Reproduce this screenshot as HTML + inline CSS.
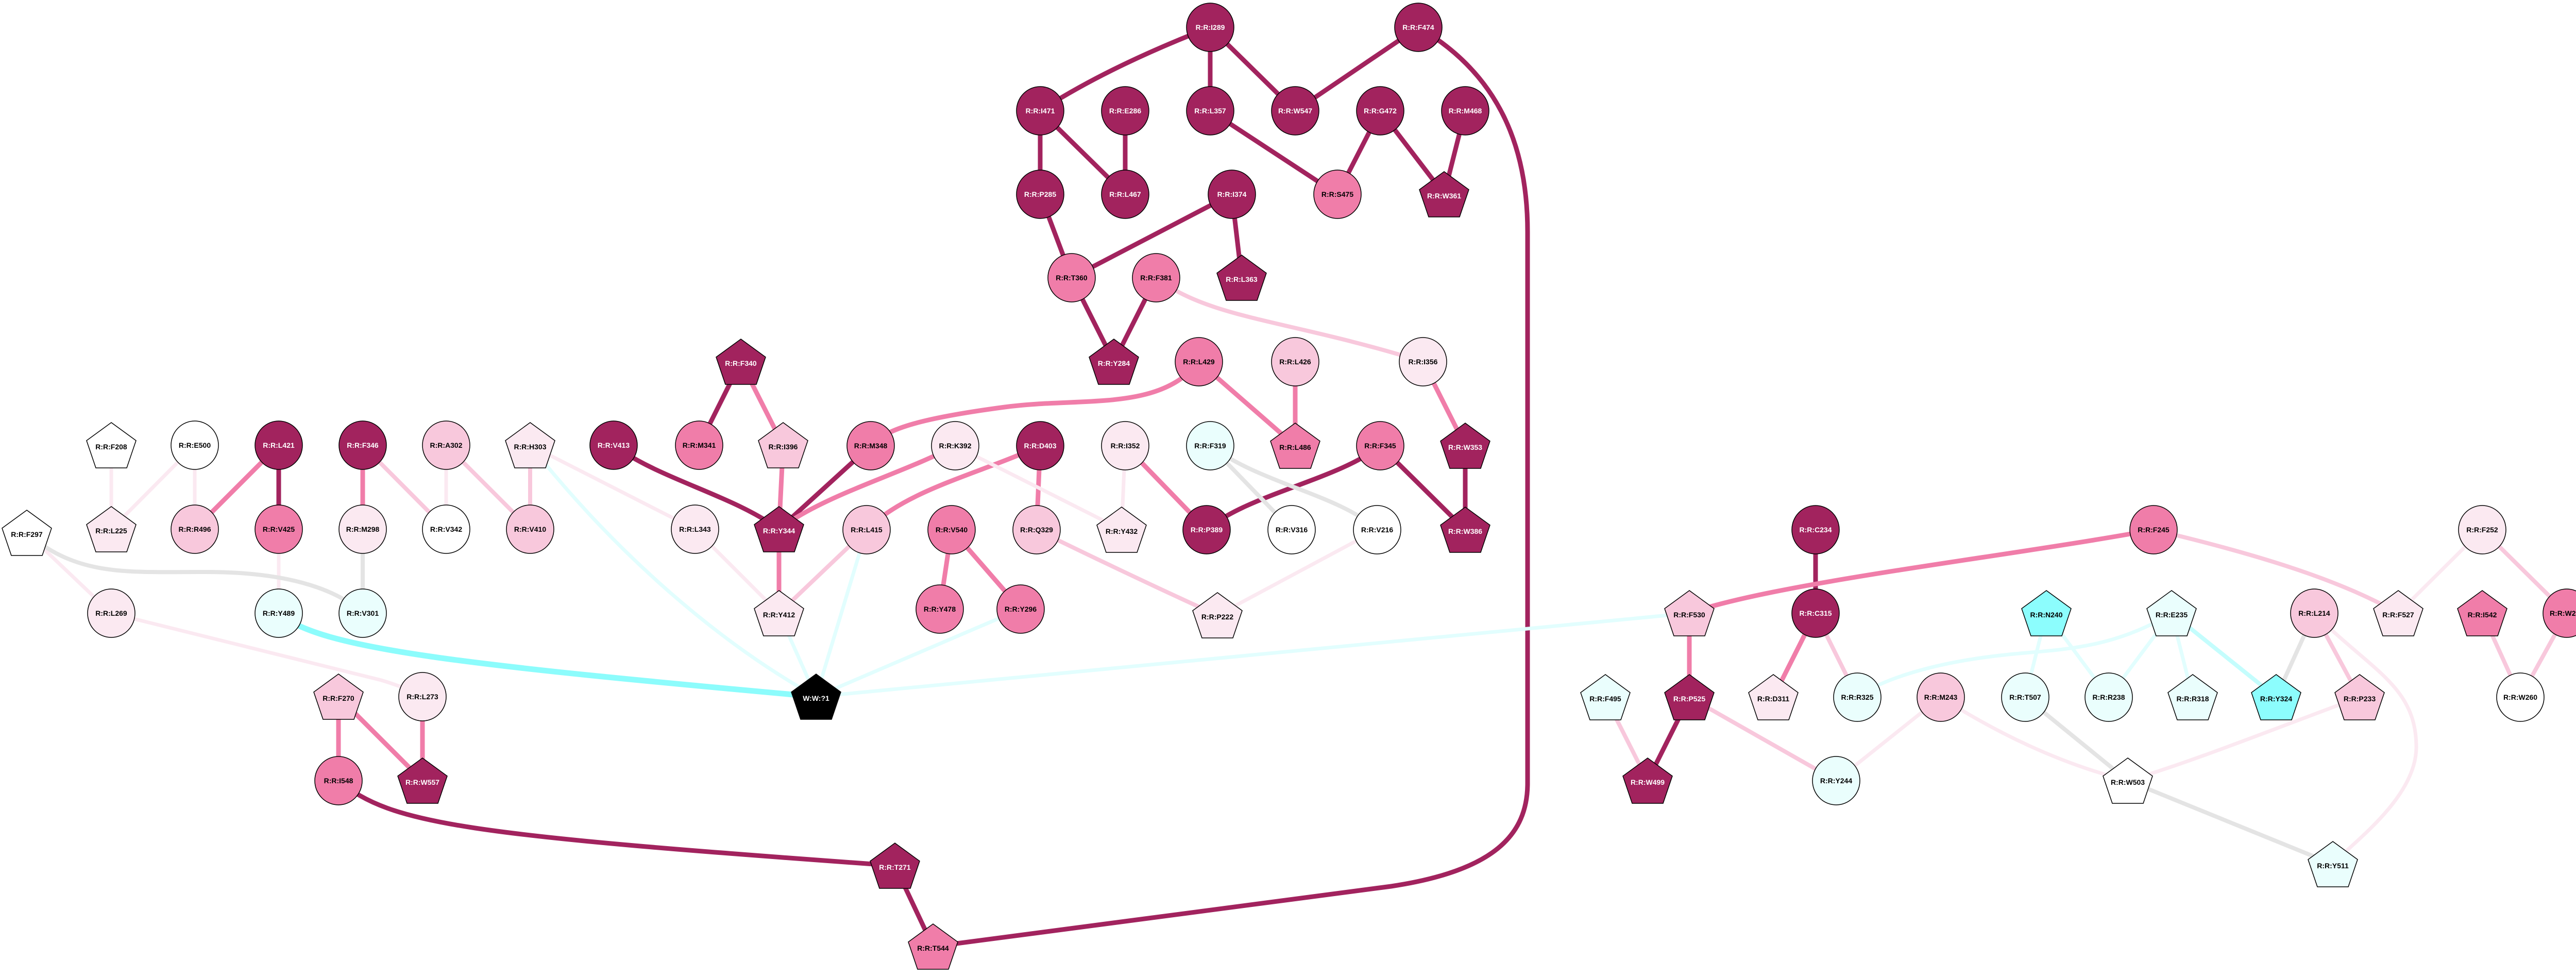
<!DOCTYPE html>
<html><head><meta charset="utf-8"><style>
html,body{margin:0;padding:0;background:#fff}
svg{display:block}
text{font-family:"Liberation Sans",sans-serif;font-weight:bold;font-size:14px;text-anchor:middle;dominant-baseline:central}
.w{fill:#fff}
.b{fill:#000}
</style></head><body>
<svg width="5035" height="1896" viewBox="0 0 5035 1896" xmlns="http://www.w3.org/2000/svg">
<defs>
<polygon id="pg" points="0,-44 48,-9 30,44 -30,44 -48,-9" stroke="#000" stroke-width="1.5"/>
</defs>
<g fill="none" stroke-linecap="round">
<!-- dark edges -->
<g stroke="#a2235e" stroke-width="9">
<path d="M2349,53 Q2150,130 2019,215"/>
<path d="M2349,53 L2349,215"/>
<path d="M2349,53 L2514,215"/>
<path d="M2753,53 L2514,215"/>
<path d="M2753,53 C2920,150 2965,300 2965,450 L2965,1520 C2965,1620 2900,1690 2700,1720 L1811,1837"/>
<path d="M2019,215 L2019,377"/>
<path d="M2019,215 L2184,377"/>
<path d="M2184,215 L2184,377"/>
<path d="M2349,215 L2596,377"/>
<path d="M2679,215 L2596,377"/>
<path d="M2679,215 L2803,377"/>
<path d="M2844,215 L2803,377"/>
<path d="M2019,377 L2080,539"/>
<path d="M2391,377 L2080,539"/>
<path d="M2391,377 L2410,539"/>
<path d="M2080,539 L2162,702"/>
<path d="M2244,539 L2162,702"/>
<path d="M1438,702 L1357,864"/>
<path d="M1191,864 C1280,930 1420,960 1512,1027"/>
<path d="M1690,865 L1512,1027"/>
<path d="M2679,865 C2600,930 2420,960 2342,1028"/>
<path d="M2679,865 L2844,1028"/>
<path d="M2844,865 L2844,1028"/>
<path d="M541,864 L541,1027"/>
<path d="M657,1515 C760,1600 900,1620 1737,1680"/>
<path d="M1737,1680 L1811,1837"/>
<path d="M3524,1028 L3524,1190"/>
<path d="M3279,1353 L3198,1515"/>
</g>
<!-- mid edges -->
<g stroke="#f07da9" stroke-width="9">
<path d="M2327,702 C2250,800 2100,770 1950,790 C1800,810 1720,830 1690,865"/>
<path d="M2327,702 L2514,865"/>
<path d="M2514,702 L2514,865"/>
<path d="M2762,702 L2844,865"/>
<path d="M1438,702 L1520,864"/>
<path d="M1520,864 L1512,1027"/>
<path d="M1854,865 C1750,920 1600,960 1512,1027"/>
<path d="M2019,865 C1900,920 1760,950 1682,1028"/>
<path d="M2019,865 L2012,1028"/>
<path d="M2184,865 L2342,1028"/>
<path d="M1512,1027 L1512,1190"/>
<path d="M1847,1028 L1824,1182"/>
<path d="M1847,1028 L1981,1182"/>
<path d="M541,864 L378,1027"/>
<path d="M704,864 L704,1027"/>
<path d="M657,1352 L657,1515"/>
<path d="M657,1352 L820,1515"/>
<path d="M820,1352 L820,1515"/>
<path d="M4180,1028 C3900,1080 3450,1130 3279,1190"/>
<path d="M3524,1190 L3442,1353"/>
<path d="M3279,1190 L3279,1353"/>
</g>
<!-- light pink edges -->
<g stroke="#f8c8dc" stroke-width="8">
<path d="M2244,539 C2350,620 2500,620 2762,702"/>
<path d="M1029,864 L1029,1027"/>
<path d="M866,864 L1029,1027"/>
<path d="M704,864 L866,1027"/>
<path d="M1682,1028 L1512,1190"/>
<path d="M2012,1028 Q2200,1120 2363,1194"/>
<path d="M4180,1028 C4400,1080 4550,1130 4655,1190"/>
<path d="M4818,1028 L4982,1190"/>
<path d="M4818,1190 L4892,1353"/>
<path d="M4982,1190 L4892,1353"/>
<path d="M3524,1190 L3605,1353"/>
<path d="M3116,1353 L3198,1515"/>
<path d="M3279,1353 L3564,1515"/>
<path d="M4492,1190 L4580,1353"/>
</g>
<!-- very light edges -->
<g stroke="#fbe9f1" stroke-width="7">
<path d="M1854,865 L2177,1028"/>
<path d="M2184,865 L2177,1028"/>
<path d="M2673,1028 L2363,1194"/>
<path d="M1029,864 L1349,1027"/>
<path d="M1349,1027 L1512,1190"/>
<path d="M216,864 L216,1027"/>
<path d="M378,864 L216,1027"/>
<path d="M378,864 L378,1027"/>
<path d="M866,864 L866,1027"/>
<path d="M541,1027 L541,1190"/>
<path d="M52,1034 L216,1190"/>
<path d="M216,1190 L740,1320 Q790,1335 820,1352"/>
<path d="M4818,1028 L4655,1190"/>
<path d="M3767,1353 L3564,1515"/>
<path d="M3767,1353 Q3950,1470 4130,1515"/>
<path d="M4580,1353 C4400,1420 4250,1480 4130,1515"/>
<path d="M4492,1190 C4600,1300 4690,1330 4690,1450 C4690,1550 4560,1640 4528,1677"/>
</g>
<!-- grey edges -->
<g stroke="#e4e4e4" stroke-width="8">
<path d="M2349,865 L2507,1028"/>
<path d="M2349,865 C2450,940 2600,960 2673,1028"/>
<path d="M704,1027 L704,1190"/>
<path d="M52,1034 C150,1120 250,1110 400,1110 C550,1110 650,1140 704,1190"/>
<path d="M3931,1353 L4130,1515"/>
<path d="M4130,1515 L4528,1677"/>
<path d="M4492,1190 L4418,1353"/>
</g>
<!-- light cyan edges -->
<g stroke="#e2fefe" stroke-width="7">
<path d="M1029,864 C1200,1080 1400,1250 1584,1352"/>
<path d="M1682,1028 L1584,1352"/>
<path d="M1512,1190 L1584,1352"/>
<path d="M1981,1182 L1584,1352"/>
<path d="M1584,1352 L3279,1190"/>
<path d="M3972,1190 L3931,1353"/>
<path d="M3972,1190 L4093,1353"/>
<path d="M4215,1190 L4093,1353"/>
<path d="M4215,1190 L4256,1353"/>
<path d="M4215,1190 C4100,1260 4000,1260 3900,1270 C3750,1285 3650,1320 3605,1353"/>
</g>
<path d="M4215,1190 L4418,1353" stroke="#c4fdfd" stroke-width="8"/>
<path d="M541,1190 C620,1260 900,1290 1584,1352" stroke="#8cfcfc" stroke-width="11"/>
</g>

<!-- nodes -->
<g stroke="#000" stroke-width="1.5">
<!-- circles: dark -->
<g fill="#a2235e">
<ellipse cx="2349" cy="53" rx="46" ry="47"/>
<ellipse cx="2753" cy="53" rx="46" ry="47"/>
<ellipse cx="2019" cy="215" rx="46" ry="47"/>
<ellipse cx="2184" cy="215" rx="46" ry="47"/>
<ellipse cx="2349" cy="215" rx="46" ry="47"/>
<ellipse cx="2514" cy="215" rx="46" ry="47"/>
<ellipse cx="2679" cy="215" rx="46" ry="47"/>
<ellipse cx="2844" cy="215" rx="46" ry="47"/>
<ellipse cx="2019" cy="377" rx="46" ry="47"/>
<ellipse cx="2184" cy="377" rx="46" ry="47"/>
<ellipse cx="2391" cy="377" rx="46" ry="47"/>
<ellipse cx="541" cy="864" rx="46" ry="47"/>
<ellipse cx="704" cy="864" rx="46" ry="47"/>
<ellipse cx="1191" cy="864" rx="46" ry="47"/>
<ellipse cx="2019" cy="865" rx="46" ry="47"/>
<ellipse cx="2342" cy="1028" rx="46" ry="47"/>
<ellipse cx="3524" cy="1028" rx="46" ry="47"/>
<ellipse cx="3524" cy="1190" rx="46" ry="47"/>
</g>
<g fill="#f07da9">
<ellipse cx="2596" cy="377" rx="46" ry="47"/>
<ellipse cx="2080" cy="539" rx="46" ry="47"/>
<ellipse cx="2244" cy="539" rx="46" ry="47"/>
<ellipse cx="2327" cy="702" rx="46" ry="47"/>
<ellipse cx="1357" cy="864" rx="46" ry="47"/>
<ellipse cx="1690" cy="865" rx="46" ry="47"/>
<ellipse cx="2679" cy="865" rx="46" ry="47"/>
<ellipse cx="541" cy="1027" rx="46" ry="47"/>
<ellipse cx="1847" cy="1028" rx="46" ry="47"/>
<ellipse cx="1824" cy="1182" rx="46" ry="47"/>
<ellipse cx="1981" cy="1182" rx="46" ry="47"/>
<ellipse cx="657" cy="1515" rx="46" ry="47"/>
<ellipse cx="4180" cy="1028" rx="46" ry="47"/>
<ellipse cx="4982" cy="1190" rx="46" ry="47"/>
</g>
<g fill="#f8c8dc">
<ellipse cx="2514" cy="702" rx="46" ry="47"/>
<ellipse cx="866" cy="864" rx="46" ry="47"/>
<ellipse cx="378" cy="1027" rx="46" ry="47"/>
<ellipse cx="1029" cy="1027" rx="46" ry="47"/>
<ellipse cx="1682" cy="1028" rx="46" ry="47"/>
<ellipse cx="2012" cy="1028" rx="46" ry="47"/>
<ellipse cx="4492" cy="1190" rx="46" ry="47"/>
<ellipse cx="3767" cy="1353" rx="46" ry="47"/>
</g>
<g fill="#fbe9f1">
<ellipse cx="2762" cy="702" rx="46" ry="47"/>
<ellipse cx="1854" cy="865" rx="46" ry="47"/>
<ellipse cx="2184" cy="865" rx="46" ry="47"/>
<ellipse cx="704" cy="1027" rx="46" ry="47"/>
<ellipse cx="1349" cy="1027" rx="46" ry="47"/>
<ellipse cx="216" cy="1190" rx="46" ry="47"/>
<ellipse cx="820" cy="1352" rx="46" ry="47"/>
<ellipse cx="4818" cy="1028" rx="46" ry="47"/>
</g>
<g fill="#ffffff">
<ellipse cx="378" cy="864" rx="46" ry="47"/>
<ellipse cx="866" cy="1027" rx="46" ry="47"/>
<ellipse cx="2507" cy="1028" rx="46" ry="47"/>
<ellipse cx="2673" cy="1028" rx="46" ry="47"/>
<ellipse cx="4892" cy="1353" rx="46" ry="47"/>
</g>
<g fill="#eafefd">
<ellipse cx="2349" cy="865" rx="46" ry="47"/>
<ellipse cx="541" cy="1190" rx="46" ry="47"/>
<ellipse cx="704" cy="1190" rx="46" ry="47"/>
<ellipse cx="3605" cy="1353" rx="46" ry="47"/>
<ellipse cx="3931" cy="1353" rx="46" ry="47"/>
<ellipse cx="4093" cy="1353" rx="46" ry="47"/>
<ellipse cx="3564" cy="1515" rx="46" ry="47"/>
</g>
<!-- pentagons -->
<g fill="#a2235e">
<use href="#pg" x="2803" y="377"/>
<use href="#pg" x="2410" y="539"/>
<use href="#pg" x="2162" y="702"/>
<use href="#pg" x="1438" y="702"/>
<use href="#pg" x="1512" y="1027"/>
<use href="#pg" x="2844" y="865"/>
<use href="#pg" x="2844" y="1028"/>
<use href="#pg" x="820" y="1515"/>
<use href="#pg" x="1737" y="1680"/>
<use href="#pg" x="3279" y="1353"/>
<use href="#pg" x="3198" y="1515"/>
</g>
<g fill="#f07da9">
<use href="#pg" x="2514" y="865"/>
<use href="#pg" x="1811" y="1837"/>
<use href="#pg" x="4818" y="1190"/>
</g>
<g fill="#f8c8dc">
<use href="#pg" x="1520" y="864"/>
<use href="#pg" x="657" y="1352"/>
<use href="#pg" x="3279" y="1190"/>
<use href="#pg" x="4580" y="1353"/>
</g>
<g fill="#fbe9f1">
<use href="#pg" x="1029" y="864"/>
<use href="#pg" x="216" y="1027"/>
<use href="#pg" x="1512" y="1190"/>
<use href="#pg" x="2177" y="1028"/>
<use href="#pg" x="2363" y="1194"/>
<use href="#pg" x="4655" y="1190"/>
<use href="#pg" x="3442" y="1353"/>
</g>
<g fill="#ffffff">
<use href="#pg" x="216" y="864"/>
<use href="#pg" x="52" y="1034"/>
<use href="#pg" x="4130" y="1515"/>
</g>
<g fill="#eafefd">
<use href="#pg" x="4215" y="1190"/>
<use href="#pg" x="3116" y="1353"/>
<use href="#pg" x="4256" y="1353"/>
<use href="#pg" x="4528" y="1677"/>
</g>
<g fill="#8cfdfd">
<use href="#pg" x="3972" y="1190"/>
<use href="#pg" x="4418" y="1353"/>
</g>
<use href="#pg" x="1584" y="1352" fill="#000"/>
</g>

<!-- labels -->
<g class="w">
<text x="2349" y="53">R:R:I289</text>
<text x="2753" y="53">R:R:F474</text>
<text x="2019" y="215">R:R:I471</text>
<text x="2184" y="215">R:R:E286</text>
<text x="2349" y="215">R:R:L357</text>
<text x="2514" y="215">R:R:W547</text>
<text x="2679" y="215">R:R:G472</text>
<text x="2844" y="215">R:R:M468</text>
<text x="2019" y="377">R:R:P285</text>
<text x="2184" y="377">R:R:L467</text>
<text x="2391" y="377">R:R:I374</text>
<text x="2803" y="380">R:R:W361</text>
<text x="2410" y="542">R:R:L363</text>
<text x="2162" y="705">R:R:Y284</text>
<text x="1438" y="705">R:R:F340</text>
<text x="541" y="864">R:R:L421</text>
<text x="704" y="864">R:R:F346</text>
<text x="1191" y="864">R:R:V413</text>
<text x="2019" y="865">R:R:D403</text>
<text x="2844" y="868">R:R:W353</text>
<text x="1512" y="1030">R:R:Y344</text>
<text x="2342" y="1028">R:R:P389</text>
<text x="2844" y="1031">R:R:W386</text>
<text x="820" y="1518">R:R:W557</text>
<text x="1737" y="1683">R:R:T271</text>
<text x="3524" y="1028">R:R:C234</text>
<text x="3524" y="1190">R:R:C315</text>
<text x="3279" y="1356">R:R:P525</text>
<text x="3198" y="1518">R:R:W499</text>
<text x="1584" y="1355">W:W:?1</text>
</g>
<g class="b">
<text x="2596" y="377">R:R:S475</text>
<text x="2080" y="539">R:R:T360</text>
<text x="2244" y="539">R:R:F381</text>
<text x="2327" y="702">R:R:L429</text>
<text x="2514" y="702">R:R:L426</text>
<text x="2762" y="702">R:R:I356</text>
<text x="216" y="867">R:R:F208</text>
<text x="378" y="864">R:R:E500</text>
<text x="866" y="864">R:R:A302</text>
<text x="1029" y="867">R:R:H303</text>
<text x="1357" y="864">R:R:M341</text>
<text x="1520" y="867">R:R:I396</text>
<text x="1690" y="865">R:R:M348</text>
<text x="1854" y="865">R:R:K392</text>
<text x="2184" y="865">R:R:I352</text>
<text x="2349" y="865">R:R:F319</text>
<text x="2514" y="868">R:R:L486</text>
<text x="2679" y="865">R:R:F345</text>
<text x="52" y="1037">R:R:F297</text>
<text x="216" y="1030">R:R:L225</text>
<text x="378" y="1027">R:R:R496</text>
<text x="541" y="1027">R:R:V425</text>
<text x="704" y="1027">R:R:M298</text>
<text x="866" y="1027">R:R:V342</text>
<text x="1029" y="1027">R:R:V410</text>
<text x="1349" y="1027">R:R:L343</text>
<text x="1682" y="1028">R:R:L415</text>
<text x="1847" y="1028">R:R:V540</text>
<text x="2012" y="1028">R:R:Q329</text>
<text x="2177" y="1031">R:R:Y432</text>
<text x="2507" y="1028">R:R:V316</text>
<text x="2673" y="1028">R:R:V216</text>
<text x="216" y="1190">R:R:L269</text>
<text x="541" y="1190">R:R:Y489</text>
<text x="704" y="1190">R:R:V301</text>
<text x="1512" y="1193">R:R:Y412</text>
<text x="1824" y="1182">R:R:Y478</text>
<text x="1981" y="1182">R:R:Y296</text>
<text x="2363" y="1197">R:R:P222</text>
<text x="657" y="1355">R:R:F270</text>
<text x="820" y="1352">R:R:L273</text>
<text x="657" y="1515">R:R:I548</text>
<text x="1811" y="1840">R:R:T544</text>
<text x="4180" y="1028">R:R:F245</text>
<text x="4818" y="1028">R:R:F252</text>
<text x="3279" y="1193">R:R:F530</text>
<text x="3972" y="1193">R:R:N240</text>
<text x="4215" y="1193">R:R:E235</text>
<text x="4492" y="1190">R:R:L214</text>
<text x="4655" y="1193">R:R:F527</text>
<text x="4818" y="1193">R:R:I542</text>
<text x="4982" y="1190">R:R:W256</text>
<text x="3116" y="1356">R:R:F495</text>
<text x="3442" y="1356">R:R:D311</text>
<text x="3605" y="1353">R:R:R325</text>
<text x="3767" y="1353">R:R:M243</text>
<text x="3931" y="1353">R:R:T507</text>
<text x="4093" y="1353">R:R:R238</text>
<text x="4256" y="1356">R:R:R318</text>
<text x="4418" y="1356">R:R:Y324</text>
<text x="4580" y="1356">R:R:P233</text>
<text x="4892" y="1353">R:R:W260</text>
<text x="3564" y="1515">R:R:Y244</text>
<text x="4130" y="1518">R:R:W503</text>
<text x="4528" y="1680">R:R:Y511</text>
</g>
</svg>
</body></html>
